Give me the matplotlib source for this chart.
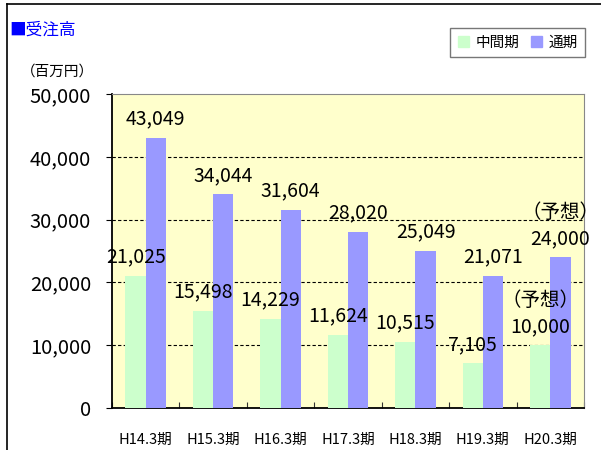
import numpy as np
import matplotlib
matplotlib.use("Agg")
import matplotlib.pyplot as plt
from matplotlib.lines import Line2D
from matplotlib.patches import Patch

plt.rcParams['font.family'] = ['Noto Sans CJK JP', 'DejaVu Sans']

# data
periods = ['H14.3期', 'H15.3期', 'H16.3期', 'H17.3期', 'H18.3期', 'H19.3期', 'H20.3期']
mid_term = [21025, 15498, 14229, 11624, 10515, 7105, 10000]
full_term = [43049, 34044, 31604, 28020, 25049, 21071, 24000]
forecast = [False, False, False, False, False, False, True]
yticks = [0, 10000, 20000, 30000, 40000, 50000]

c_mid = '#CCFFCC'
c_full = '#9999FF'

fig = plt.figure(figsize=(6.01, 4.5), dpi=100)
ax = fig.add_axes([112/601, 42/450, 472/601, 314/450])
ax.set_facecolor('#FFFFCC')

x = np.arange(len(periods))
w = 0.3
ax.bar(x - w/2, mid_term, w, color=c_mid, zorder=3)
ax.bar(x + w/2, full_term, w, color=c_full, zorder=3)

# value labels
for i in range(len(periods)):
    for xx, v in [(x[i] - w/2, mid_term[i]), (x[i] + w/2, full_term[i])]:
        txt = f'{v:,}'
        if forecast[i]:
            txt = '（予想）\n' + txt
        ax.annotate(txt, (xx, v), xytext=(0, 6), textcoords='offset points',
                    ha='center', va='bottom', fontsize=14, linespacing=1.3, zorder=5)

ax.set_xlim(-0.5, len(periods) - 0.5)
ax.set_ylim(0, 50000)
ax.set_yticks(yticks)
ax.set_yticklabels([f'{t:,}' for t in yticks], fontsize=14.5)
for t in yticks[1:-1]:
    ax.axhline(t, color='black', lw=0.8, ls=(0, (3, 2)), zorder=1)

ax.set_xticks(np.arange(len(periods) + 1) - 0.5, minor=False)
ax.set_xticklabels([])
ax.set_xticks(x, minor=True)
ax.set_xticklabels(periods, minor=True, fontsize=10.5)
ax.tick_params(axis='x', which='major', direction='in', length=4, color='#333333')
ax.tick_params(axis='x', which='minor', length=0, pad=18)
ax.tick_params(axis='y', direction='out', length=4, pad=11)

ax.spines['top'].set_color('#888888')
ax.spines['right'].set_color('#888888')
ax.spines['left'].set_linewidth(1.3)
ax.spines['bottom'].set_linewidth(1.3)

# texts outside the plot
fig.text(9/601, 1 - 30/450, '■受注高', color='#0000FF', fontsize=12, va='center')
fig.text(21/601, 1 - 72/450, '（百万円）', fontsize=10.5, va='center')

handles = [Patch(color=c_mid, label='中間期'), Patch(color=c_full, label='通期')]
fig.legend(handles=handles, ncol=2, loc='upper right', bbox_to_anchor=(592/601, 1 - 21/450),
           fontsize=10.5, frameon=True, fancybox=False, edgecolor='#555555',
           handlelength=0.8, handleheight=0.8, columnspacing=0.8, handletextpad=0.4,
           borderpad=0.5)

# outer frame (top and left edges)
fig.add_artist(Line2D([7/601, 1], [1 - 4/450, 1 - 4/450], color='black', lw=1.2))
fig.add_artist(Line2D([7/601, 7/601], [0, 1 - 4/450], color='black', lw=1.2))

fig.savefig('out.png', dpi=100)
